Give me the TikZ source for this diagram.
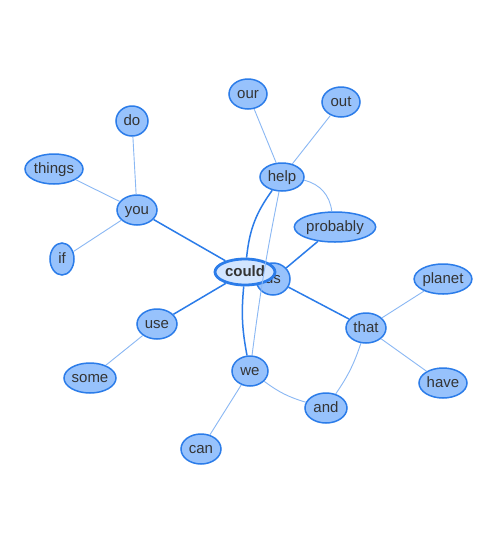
\documentclass[tikz,border=0pt]{standalone}
\usepackage{fontspec}
\setmainfont{Liberation Sans}
\usetikzlibrary{shapes.geometric}
\definecolor{nfill}{HTML}{97C2FC}
\definecolor{nborder}{HTML}{2B7CE9}
\definecolor{cfill}{HTML}{D2E5FF}
\definecolor{thinedge}{HTML}{8AB8F4}
\definecolor{txt}{HTML}{343434}
\tikzset{
  word/.style={ellipse, draw=nborder, fill=nfill, line width=1.5pt, inner sep=0pt,
    text=txt, text height=11pt, text depth=3pt, font=\fontsize{15pt}{17pt}\selectfont},
  hub/.style={word, fill=cfill, line width=2.8pt, font=\fontsize{15pt}{17pt}\selectfont\bfseries},
  strong/.style={draw=nborder, line width=1.5pt},
  weak/.style={draw=thinedge, line width=0.9pt},
}
\begin{document}
\begin{tikzpicture}[x=1pt,y=-1pt]
\useasboundingbox[fill=white] (0,0) rectangle (500,550);
% nodes
\node[word, minimum width=34pt, minimum height=32pt] (us) at (273,279) {us};
\node[word, minimum width=44pt, minimum height=28pt] (help) at (282,177) {help};
\node[word, minimum width=38pt, minimum height=30pt] (our) at (248,94) {our};
\node[word, minimum width=38pt, minimum height=30pt] (out) at (341,102) {out};
\node[word, minimum width=76pt, minimum height=30pt] (probably) at (335,227) {probably};
\node[word, minimum width=40pt, minimum height=30pt] (you) at (137,210) {you};
\node[word, minimum width=32pt, minimum height=30pt] (do) at (132,121) {do};
\node[word, minimum width=58pt, minimum height=30pt] (things) at (54,169) {things};
\node[word, minimum width=24pt, minimum height=32pt] (if) at (62,259) {if};
\node[word, minimum width=40pt, minimum height=30pt] (use) at (157,324) {use};
\node[word, minimum width=52pt, minimum height=30pt] (some) at (90,378) {some};
\node[word, minimum width=36pt, minimum height=30pt] (we) at (250,371) {we};
\node[word, minimum width=40pt, minimum height=30pt] (can) at (201,449) {can};
\node[word, minimum width=42pt, minimum height=30pt] (and) at (326,408) {and};
\node[word, minimum width=40pt, minimum height=30pt] (that) at (366,328) {that};
\node[word, minimum width=56pt, minimum height=30pt] (planet) at (443,279) {planet};
\node[word, minimum width=48pt, minimum height=30pt] (have) at (443,383) {have};
\node[hub, minimum width=60pt, minimum height=26pt] (could) at (245,272) {could};
% edges
\path[weak] (help) -- (our);
\path[weak] (help) -- (out);
\path[weak] (help) to[bend left=35] (probably);
\path[weak] (help) to[bend right=2] (we);
\path[weak] (you) -- (do);
\path[weak] (you) -- (things);
\path[weak] (you) -- (if);
\path[weak] (use) -- (some);
\path[weak] (we) -- (can);
\path[weak] (we) to[bend right=10] (and);
\path[weak] (that) to[bend left=8] (and);
\path[weak] (that) -- (planet);
\path[weak] (that) -- (have);
\path[strong] (could) -- (you);
\path[strong] (could) -- (use);
\path[strong] (could) to[bend left=15] (help);
\path[strong] (could) to[bend right=8] (we);
\path[strong] (us) -- (probably);
\path[strong] (us) -- (that);
\end{tikzpicture}
\end{document}
